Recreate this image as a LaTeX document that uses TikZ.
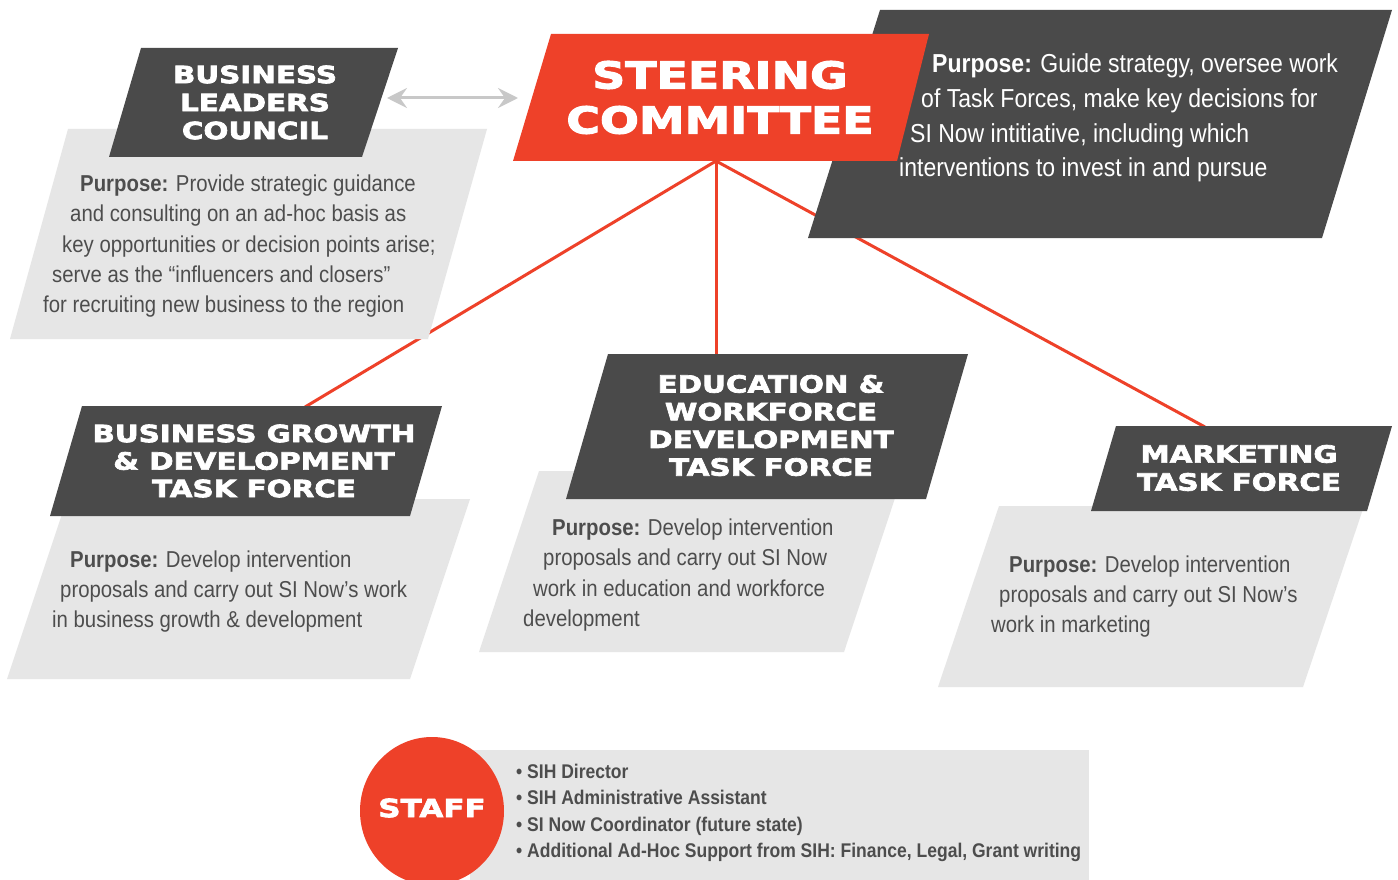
\documentclass[tikz,border=0pt]{standalone}
\usepackage{fontspec}
\usetikzlibrary{arrows.meta}
\newfontfamily\titlefont{DejaVu Sans}[FakeStretch=1.24,BoldFeatures={FakeBold=3}]
\newfontfamily\bodyfont{Liberation Sans}[FakeStretch=0.885]
\definecolor{scred}{HTML}{EE4129}
\definecolor{darkbox}{HTML}{4A4A4A}
\definecolor{lightbox}{HTML}{E6E6E6}
\definecolor{bodytext}{HTML}{4D4D4D}
\definecolor{arrowgray}{HTML}{C8C8C8}
\begin{document}
\begin{tikzpicture}[x=1pt,y=-1pt,
  redline/.style={draw=scred, line width=3pt},
  graybox/.style={fill=lightbox},
  darkshape/.style={fill=darkbox},
  titletext/.style={text=white, align=center, inner sep=0pt, font=\titlefont\bfseries\fontsize{23.7}{28}\selectfont},
  bodyline/.style={anchor=base west, inner sep=0pt, text=bodytext, font=\bodyfont\fontsize{23}{30}\selectfont},
  whiteline/.style={anchor=base west, inner sep=0pt, text=white, font=\bodyfont\fontsize{26}{34}\selectfont},
  staffline/.style={anchor=base west, inner sep=0pt, text=bodytext, font=\bodyfont\bfseries\fontsize{19.8}{27}\selectfont},
  twoway/.style={draw=arrowgray, line width=3pt, {Stealth[length=20pt,width=20pt,inset=7pt]}-{Stealth[length=20pt,width=20pt,inset=7pt]}}
]
\useasboundingbox (0,0) rectangle (1398,880);
\fill[white] (0,0) rectangle (1398,880);

% connectors (behind boxes)
\coordinate (hub) at (716,161);
\coordinate (bgtop) at (305,407);
\coordinate (ewdtop) at (716,355);
\coordinate (mkttop) at (1205,427);
\draw[redline] (hub) -- (bgtop);
\draw[redline] (hub) -- (ewdtop);
\draw[redline] (hub) -- (mkttop);

% Business Leaders Council
\fill[graybox] (68,129) -- (487,129) -- (428,339) -- (10,339) -- cycle;
\fill[darkshape] (141,48) -- (398,48) -- (362,157) -- (109,157) -- cycle;

% Steering committee purpose box
\fill[darkshape] (880,10) -- (1392,10) -- (1322,238) -- (808,238) -- cycle;
\fill[scred] (551,34) -- (929,34) -- (897,161) -- (513,161) -- cycle;

% Business growth
\fill[graybox] (67,499) -- (470,499) -- (410,679) -- (7,679) -- cycle;
\fill[darkshape] (82,406) -- (442,406) -- (410,516) -- (50,516) -- cycle;

% Education & workforce
\fill[graybox] (539,471) -- (904,471) -- (844,652) -- (479,652) -- cycle;
\fill[darkshape] (608,354) -- (968,354) -- (926,499) -- (566,499) -- cycle;

% Marketing
\fill[graybox] (999,506) -- (1364,506) -- (1303,687) -- (938,687) -- cycle;
\fill[darkshape] (1116,426) -- (1392,426) -- (1367,511) -- (1091,511) -- cycle;

% Staff
\fill[graybox] (470,750) rectangle (1089,880);
\fill[scred] (432,811) ellipse[x radius=72, y radius=74];

% two-way arrow
\coordinate (blcR) at (387,98);
\coordinate (scL) at (518,98);
\draw[twoway] (blcR) -- (scL);

% titles
\node[titletext] (blc) at (255,102.5) {BUSINESS\\LEADERS\\COUNCIL};
\node[titletext, font=\titlefont\bfseries\fontsize{37}{45}\selectfont] (sc) at (720,97.5) {STEERING\\COMMITTEE};
\node[titletext, font=\titlefont\bfseries\fontsize{23.7}{27.5}\selectfont] (bg) at (254,461) {BUSINESS GROWTH\\\& DEVELOPMENT\\TASK FORCE};
\node[titletext, font=\titlefont\bfseries\fontsize{23.7}{27.7}\selectfont] (ewd) at (771,425.5) {EDUCATION \&\\WORKFORCE\\DEVELOPMENT\\TASK FORCE};
\node[titletext] (mkt) at (1239,468) {MARKETING\\TASK FORCE};
\node[titletext, font=\titlefont\bfseries\fontsize{25}{28}\selectfont] (staff) at (432,808) {STAFF};

% BLC purpose
\node[bodyline] (blc1) at (80,192) {{\bfseries Purpose:} Provide strategic guidance};
\node[bodyline] (blc2) at (70,222) {and consulting on an ad-hoc basis as};
\node[bodyline] (blc3) at (62,252) {key opportunities or decision points arise;};
\node[bodyline] (blc4) at (52,282) {serve as the “influencers and closers”};
\node[bodyline] (blc5) at (43,312) {for recruiting new business to the region};

% Steering purpose
\node[whiteline] (sc1) at (932,73) {{\bfseries Purpose:} Guide strategy, oversee work};
\node[whiteline] (sc2) at (921,108) {of Task Forces, make key decisions for};
\node[whiteline] (sc3) at (910,142.5) {SI Now intitiative, including which};
\node[whiteline] (sc4) at (899,177) {interventions to invest in and pursue};

% BG purpose
\node[bodyline] (bg1) at (70,567) {{\bfseries Purpose:} Develop intervention};
\node[bodyline] (bg2) at (60,597) {proposals and carry out SI Now’s work};
\node[bodyline] (bg3) at (52,627) {in business growth \& development};

% EWD purpose
\node[bodyline] (ewd1) at (552,535) {{\bfseries Purpose:} Develop intervention};
\node[bodyline] (ewd2) at (543,565) {proposals and carry out SI Now};
\node[bodyline] (ewd3) at (533,596) {work in education and workforce};
\node[bodyline] (ewd4) at (523,626) {development};

% Marketing purpose
\node[bodyline] (mkt1) at (1009,572) {{\bfseries Purpose:} Develop intervention};
\node[bodyline] (mkt2) at (999,602) {proposals and carry out SI Now’s};
\node[bodyline] (mkt3) at (991,632) {work in marketing};

% Staff list
\node[staffline] (st1) at (516,778) {• SIH Director};
\node[staffline] (st2) at (516,804.5) {• SIH Administrative Assistant};
\node[staffline] (st3) at (516,831) {• SI Now Coordinator (future state)};
\node[staffline] (st4) at (516,857.5) {• Additional Ad-Hoc Support from SIH: Finance, Legal, Grant writing};
\end{tikzpicture}
\end{document}
